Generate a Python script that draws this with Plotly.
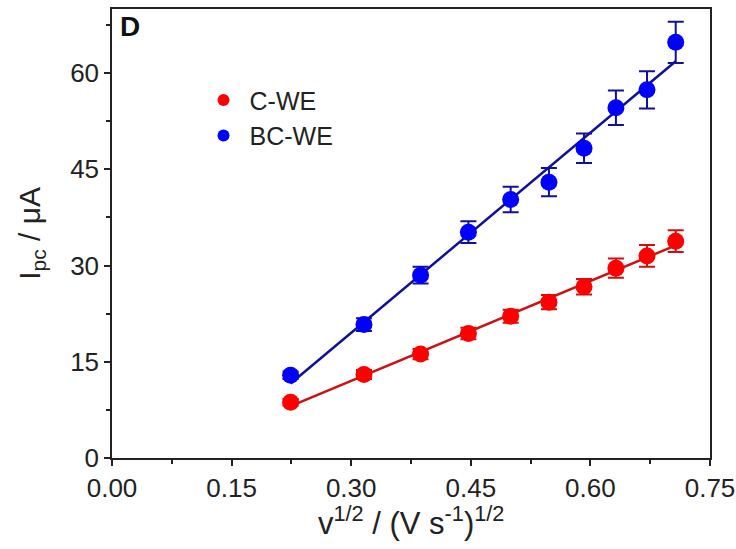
import numpy as np
import plotly.graph_objects as go

# ---- data ----
x_vals = [0.224, 0.316, 0.387, 0.447, 0.500, 0.548, 0.592, 0.632, 0.671, 0.707]
bc_we = [12.9, 20.8, 28.5, 35.2, 40.3, 43.0, 48.3, 54.6, 57.4, 64.8]
bc_we_err = [0.6, 1.0, 1.3, 1.7, 2.0, 2.2, 2.3, 2.7, 2.9, 3.2]
c_we = [8.7, 13.0, 16.2, 19.4, 22.1, 24.3, 26.7, 29.6, 31.5, 33.8]
c_we_err = [0.5, 0.7, 0.8, 0.9, 1.0, 1.1, 1.2, 1.5, 1.7, 1.7]
series_names = ["C-WE", "BC-WE"]
x_ticks = [0.00, 0.15, 0.30, 0.45, 0.60, 0.75]
x_ticklabels = ["0.00", "0.15", "0.30", "0.45", "0.60", "0.75"]
y_ticks = [0, 15, 30, 45, 60]

FONT = "Arial, 'Liberation Sans', sans-serif"
RED, BLUE = "#FF0000", "#0000FF"
RED_LINE, BLUE_LINE = "#D01010", "#10109A"

fig = go.Figure()

xs = np.array(x_vals)
for ys, err, mcol, lcol in [(c_we, c_we_err, RED, RED_LINE), (bc_we, bc_we_err, BLUE, BLUE_LINE)]:
    k, b = np.polyfit(xs, np.array(ys), 1)
    xl = np.array([xs.min(), xs.max()])
    fig.add_trace(go.Scatter(x=xl, y=k * xl + b, mode="lines",
                             line=dict(color=lcol, width=2.5), showlegend=False,
                             hoverinfo="skip"))
    fig.add_trace(go.Scatter(x=x_vals, y=ys, mode="markers",
                             marker=dict(color=mcol, size=17, line=dict(width=0)),
                             error_y=dict(type="data", array=err, visible=True,
                                          color=lcol, thickness=2, width=8),
                             showlegend=False))

for name, col in zip(series_names, [RED, BLUE]):
    fig.add_trace(go.Scatter(x=[None], y=[None], mode="markers", name=name,
                             marker=dict(color=col, size=17)))

axis_common = dict(showline=True, linecolor="#222", linewidth=1.5, mirror=True,
                   ticks="outside", ticklen=6, tickwidth=1.5, tickcolor="#222",
                   showgrid=False, zeroline=False, automargin=False,
                   tickfont=dict(family=FONT, size=26, color="#222"))

fig.update_xaxes(range=[0, 0.75], tickvals=x_ticks, ticktext=x_ticklabels,
                 minor=dict(ticks="outside", ticklen=4, tickwidth=1.5,
                            tickcolor="#222", dtick=0.075, tick0=0, showgrid=False),
                 **axis_common)
fig.update_yaxes(range=[0, 70], tickvals=y_ticks,
                 minor=dict(ticks="outside", ticklen=4, tickwidth=1.5,
                            tickcolor="#222", dtick=7.5, tick0=0, showgrid=False),
                 **axis_common)

fig.update_layout(
    width=736, height=549,
    margin=dict(l=112, r=26, t=9, b=91, autoexpand=False),
    paper_bgcolor="white", plot_bgcolor="white",
    font=dict(family=FONT, color="#222"),
    legend=dict(x=0.143, y=0.848, xanchor="left", yanchor="top",
                bgcolor="rgba(0,0,0,0)", font=dict(family=FONT, size=25, color="#222"),
                itemsizing="constant", itemwidth=42, tracegroupgap=0),
    annotations=[
        dict(text="<b>D</b>", xref="paper", yref="paper", x=0.01, y=1.0,
             xanchor="left", yanchor="top", showarrow=False,
             font=dict(family=FONT, size=28, color="#111")),
        dict(text="I<sub>pc</sub> / μA", xref="paper", yref="paper",
             x=-0.135, y=0.5, textangle=-90, showarrow=False,
             xanchor="center", yanchor="middle",
             font=dict(family=FONT, size=30, color="#222")),
        dict(text="v<sup>1/2</sup> / (V s<sup>-1</sup>)<sup>1/2</sup>", xref="paper",
             yref="paper", x=0.5, y=-0.14, showarrow=False,
             xanchor="center", yanchor="middle",
             font=dict(family=FONT, size=31, color="#222")),
    ],
)

fig.write_html("out.html")
